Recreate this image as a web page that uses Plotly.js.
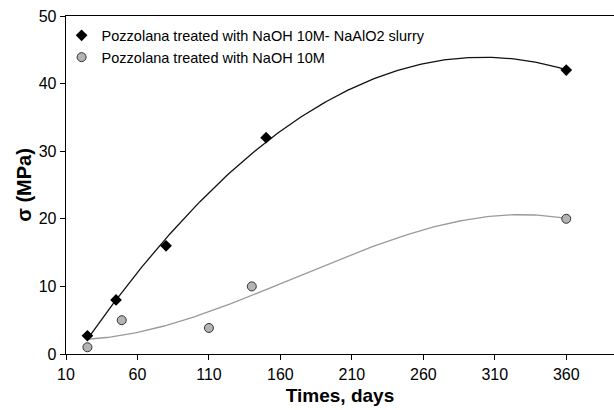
<!DOCTYPE html>
<html>
<head>
<meta charset="utf-8">
<script src="https://cdn.plot.ly/plotly-3.0.1.min.js"></script>
<style>html,body{margin:0;padding:0;background:#fff;}#chart{width:614px;height:410px;}</style>
</head>
<body>
<div id="chart"></div>
<script>
// Data
const seriesNames = ["Pozzolana treated with NaOH 10M- NaAlO2 slurry", "Pozzolana treated with NaOH 10M"];
const daysSlurry = [25, 45, 80, 150, 360];
const stressSlurry = [2.7, 8, 16, 32, 42];
const daysNaOH = [25, 49, 110, 140, 360];
const stressNaOH = [1, 5, 3.85, 10, 20];
const xTicks = [10, 60, 110, 160, 210, 260, 310, 360];
const yTicks = [0, 10, 20, 30, 40, 50];

// Least-squares polynomial trendlines, computed from the data
function polyFit(xs, ys, order) {
  const s = 100;
  const n = order + 1;
  const A = [], b = [];
  for (let i = 0; i < n; i++) {
    A.push(new Array(n).fill(0)); b.push(0);
  }
  for (let k = 0; k < xs.length; k++) {
    const x = xs[k] / s;
    for (let i = 0; i < n; i++) {
      b[i] += ys[k] * Math.pow(x, i);
      for (let j = 0; j < n; j++) A[i][j] += Math.pow(x, i + j);
    }
  }
  for (let i = 0; i < n; i++) {
    let p = i;
    for (let r = i + 1; r < n; r++) if (Math.abs(A[r][i]) > Math.abs(A[p][i])) p = r;
    [A[i], A[p]] = [A[p], A[i]]; [b[i], b[p]] = [b[p], b[i]];
    for (let r = i + 1; r < n; r++) {
      const f = A[r][i] / A[i][i];
      for (let c = i; c < n; c++) A[r][c] -= f * A[i][c];
      b[r] -= f * b[i];
    }
  }
  const coef = new Array(n).fill(0);
  for (let i = n - 1; i >= 0; i--) {
    let v = b[i];
    for (let c = i + 1; c < n; c++) v -= A[i][c] * coef[c];
    coef[i] = v / A[i][i];
  }
  return x => coef.reduce((acc, c, i) => acc + c * Math.pow(x / s, i), 0);
}
function curve(xs, ys, order) {
  const f = polyFit(xs, ys, order);
  const x0 = Math.min(...xs), x1 = Math.max(...xs);
  const cx = [], cy = [];
  for (let i = 0; i <= 200; i++) {
    const x = x0 + (x1 - x0) * i / 200;
    cx.push(x); cy.push(f(x));
  }
  return {x: cx, y: cy};
}
const fitA = curve(daysSlurry, stressSlurry, 2);
const fitB = curve(daysNaOH, stressNaOH, 3);

const font = "'Liberation Sans', Arial, sans-serif";
const traces = [
  {x: fitA.x, y: fitA.y, mode: 'lines', line: {color: '#111', width: 1.3}, showlegend: false, hoverinfo: 'skip'},
  {x: fitB.x, y: fitB.y, mode: 'lines', line: {color: '#9a9a9a', width: 1.3}, showlegend: false, hoverinfo: 'skip'},
  {x: daysSlurry, y: stressSlurry, name: seriesNames[0], mode: 'markers',
   marker: {symbol: 'diamond', size: 9, color: '#000', line: {color: '#000', width: 0}}},
  {x: daysNaOH, y: stressNaOH, name: seriesNames[1], mode: 'markers',
   marker: {symbol: 'circle', size: 9, color: '#b4b4b4', line: {color: '#333', width: 1}}}
];
const layout = {
  width: 614, height: 410,
  margin: {l: 66, r: 0, t: 16, b: 56},
  paper_bgcolor: '#fff', plot_bgcolor: '#fff',
  font: {family: font, color: '#000'},
  showlegend: true,
  legend: {x: -0.008, y: 0.99, xanchor: 'left', yanchor: 'top', bgcolor: 'rgba(0,0,0,0)',
           font: {size: 14.5, family: font}, tracegroupgap: 0, itemwidth: 30},
  xaxis: {range: [10, 393.4], tickvals: xTicks, ticktext: xTicks.map(String),
          showgrid: false, zeroline: false, showline: true, linecolor: '#000', linewidth: 1.3,
          mirror: true, ticks: 'outside', ticklen: 5, tickcolor: '#000',
          tickfont: {size: 16, family: font},
          title: {text: '<b>Times, days</b>', font: {size: 19, family: font}, standoff: 7}},
  yaxis: {range: [0, 50], tickvals: yTicks, ticktext: yTicks.map(String),
          showgrid: false, zeroline: false, showline: true, linecolor: '#000', linewidth: 1.3,
          ticks: 'outside', ticklen: 5, tickcolor: '#000',
          tickfont: {size: 16, family: font},
          title: {text: '<b>σ (MPa)</b>', font: {size: 20, family: font}, standoff: 1}}
};
Plotly.newPlot('chart', traces, layout, {displayModeBar: false, staticPlot: true});
</script>
</body>
</html>
